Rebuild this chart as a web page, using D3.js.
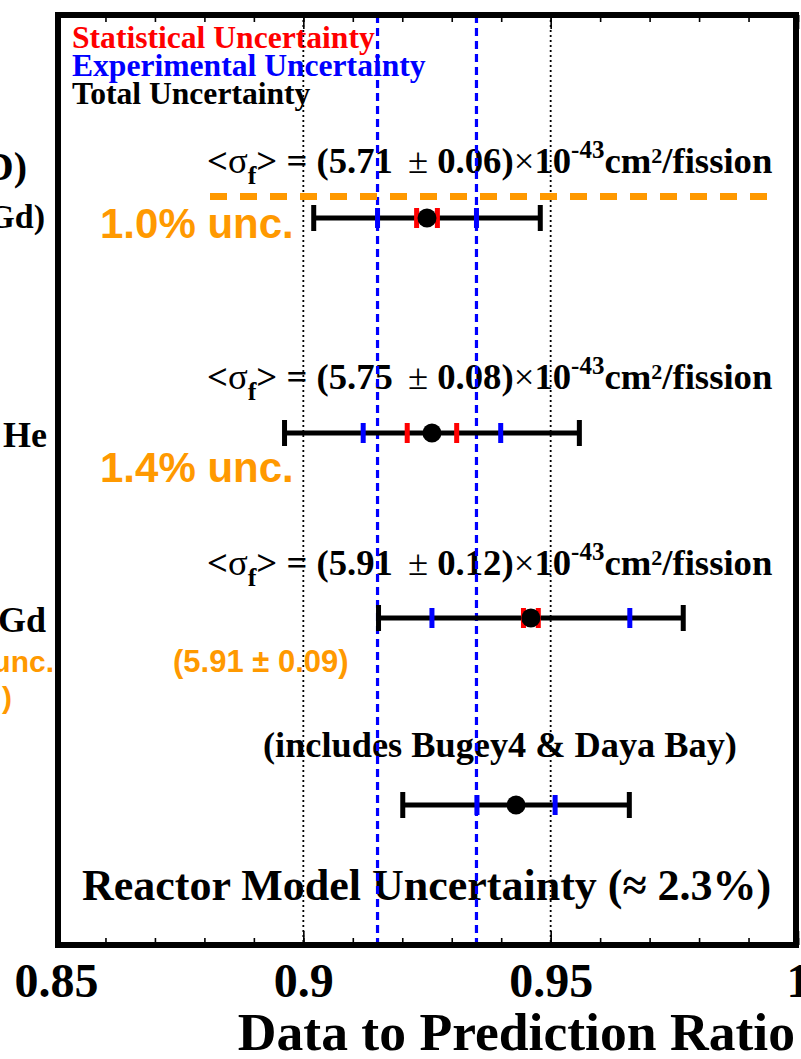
<!DOCTYPE html>
<html>
<head>
<meta charset="utf-8">
<script src="https://cdn.jsdelivr.net/npm/d3@7"></script>
<style>
  html, body { margin: 0; padding: 0; background: #fff; }
  svg { display: block; }
  text { font-family: "Liberation Serif", "Times New Roman", Times, serif; font-weight: bold; white-space: pre; }
  text.sans { font-family: "Liberation Sans", Arial, Helvetica, sans-serif; }
</style>
</head>
<body>
<svg id="chart" width="801" height="1059"></svg>
<script>
// ---- data -------------------------------------------------------------
const rowKeys   = ["r1", "r2", "r3", "r4"];
const ratio     = [0.925, 0.926, 0.946, 0.943];      // data / prediction
const totalUnc  = [0.0229, 0.0298, 0.0308, 0.0229];  // total (black)
const expUnc    = [0.0100, 0.0139, 0.0200, 0.0079];  // experimental (blue)
const statUnc   = [0.0021, 0.0050, 0.0015, null];    // statistical (red)

const yieldCentral = ["5.71", "5.75", "5.91"];
const yieldError   = ["0.06", "0.08", "0.12"];

const bandEdges  = [0.915, 0.935];                   // blue dashed reference band
const gridValues = [0.9, 0.95];                      // dotted guide lines
const majorTicks = [0.85, 0.9, 0.95, 1.0];
const tickLabels = ["0.85", "0.9", "0.95", "1"];
const minorTicks = d3.range(0, 16).map(i => 0.85 + i * 0.01);

const legendText  = ["Statistical Uncertainty", "Experimental Uncertainty", "Total Uncertainty"];
const legendColor = ["#ff0000", "#0000ff", "#000000"];
const uncLabels   = ["1.0% unc.", "1.4% unc."];
const altYield    = "(5.91 ± 0.09)";

// ---- layout -----------------------------------------------------------
const W = 801, H = 1059;
const frameTop = 15, frameBottom = 945;
const x = d3.scaleLinear().domain([0.85, 1.0]).range([56, 798]);
const y = d3.scaleOrdinal().domain(rowKeys).range([218, 433, 618, 805]);

const svg = d3.select("#chart");
svg.append("rect").attr("width", W).attr("height", H).attr("fill", "#fff");

// ---- text inside the frame (drawn under the guide lines) --------------
const legend = svg.append("g");
legendText.forEach((t, i) => {
  legend.append("text")
    .attr("x", 72).attr("y", 48 + i * 28)
    .attr("font-size", 31.6)
    .attr("fill", legendColor[i])
    .text(t);
});

function yieldLabel(baseline, c, e) {
  const t = svg.append("text").attr("x", 207).attr("y", baseline).attr("font-size", 36.7);
  t.append("tspan").text("<");
  t.append("tspan").attr("font-weight", "normal").text("σ");
  t.append("tspan").attr("font-size", 26).attr("dy", 11).text("f");
  t.append("tspan").attr("dy", -11).text("> = (" + c);
  t.append("tspan").attr("dx", 15).attr("font-weight", "normal").text("±");
  t.append("tspan").text(" " + e + ")");
  t.append("tspan").attr("font-weight", "normal").text("×");
  t.append("tspan").text("10");
  t.append("tspan").attr("font-size", 25).attr("dy", -15).text("-43");
  t.append("tspan").attr("dy", 15).text("cm");
  t.append("tspan").attr("font-size", 22).attr("dy", -10).text("2");
  t.append("tspan").attr("dy", 10).text("/fission");
}
yieldLabel(173, yieldCentral[0], yieldError[0]);
yieldLabel(389, yieldCentral[1], yieldError[1]);
yieldLabel(575, yieldCentral[2], yieldError[2]);

svg.append("text").attr("x", 263).attr("y", 757).attr("font-size", 36.3)
  .text("(includes Bugey4 & Daya Bay)");

svg.append("text").attr("x", 82).attr("y", 900).attr("font-size", 44)
  .text("Reactor Model Uncertainty (≈ 2.3%)");

// ---- guide lines --------------------------------------------------------
svg.append("g").selectAll("line").data(gridValues).join("line")
  .attr("x1", d => x(d)).attr("x2", d => x(d))
  .attr("y1", frameTop).attr("y2", frameBottom)
  .attr("stroke", "#000").attr("stroke-width", 1.8)
  .attr("stroke-dasharray", "2,3");

svg.append("g").selectAll("line").data(bandEdges).join("line")
  .attr("x1", d => x(d)).attr("x2", d => x(d))
  .attr("y1", frameTop).attr("y2", frameBottom)
  .attr("stroke", "#0000ff").attr("stroke-width", 3.2)
  .attr("stroke-dasharray", "8,5");

// ---- error bars ---------------------------------------------------------
const bars = svg.append("g").selectAll("g").data(rowKeys).join("g")
  .attr("transform", d => `translate(0,${y(d)})`);

bars.append("line")
  .attr("x1", (d, i) => x(ratio[i] - totalUnc[i]))
  .attr("x2", (d, i) => x(ratio[i] + totalUnc[i]))
  .attr("stroke", "#000").attr("stroke-width", 5);

[-1, 1].forEach(s => {
  bars.append("rect")
    .attr("x", (d, i) => x(ratio[i] + s * totalUnc[i]) - 2.5)
    .attr("y", -13).attr("width", 5).attr("height", 26).attr("fill", "#000");
  bars.append("rect")
    .attr("x", (d, i) => x(ratio[i] + s * expUnc[i]) - 2.5)
    .attr("y", -10).attr("width", 5).attr("height", 20).attr("fill", "#0000ff");
  bars.filter((d, i) => statUnc[i] != null).append("rect")
    .attr("x", d => x(ratio[rowKeys.indexOf(d)] + s * statUnc[rowKeys.indexOf(d)]) - 2.5)
    .attr("y", -10).attr("width", 5).attr("height", 20).attr("fill", "#ff0000");
});

bars.append("circle")
  .attr("cx", (d, i) => x(ratio[i]))
  .attr("r", 9.5).attr("fill", "#000");

// ---- frame and axis -----------------------------------------------------
svg.append("rect")
  .attr("x", x(0.85) + 2).attr("y", frameTop)
  .attr("width", x(1.0) - x(0.85) - 4).attr("height", frameBottom - frameTop)
  .attr("fill", "none").attr("stroke", "#000").attr("stroke-width", 6);

const axisMinorB = d3.axisBottom(x).tickValues(minorTicks).tickSize(-7).tickFormat("");
const axisMajorB = d3.axisBottom(x).tickValues(majorTicks).tickSize(-14)
  .tickFormat((d, i) => tickLabels[i]).tickPadding(28);
const axisMinorT = d3.axisTop(x).tickValues(minorTicks).tickSize(-7).tickFormat("");
const axisMajorT = d3.axisTop(x).tickValues(majorTicks).tickSize(-14).tickFormat("");

function styleAxis(g) {
  g.select(".domain").remove();
  g.selectAll(".tick line").attr("stroke", "#000").attr("stroke-width", 1.6);
}
svg.append("g").attr("transform", `translate(0,${frameBottom})`).call(axisMinorB).call(styleAxis);
const gb = svg.append("g").attr("transform", `translate(0,${frameBottom})`).call(axisMajorB).call(styleAxis);
gb.selectAll(".tick text")
  .attr("font-family", "Liberation Serif, Times New Roman, serif")
  .attr("font-weight", "bold").attr("font-size", 48).attr("fill", "#000")
  .attr("dy", "0.5em");
svg.append("g").attr("transform", `translate(0,${frameTop})`).call(axisMinorT).call(styleAxis);
svg.append("g").attr("transform", `translate(0,${frameTop})`).call(axisMajorT).call(styleAxis);

svg.append("text").attr("x", 795).attr("y", 1050).attr("text-anchor", "end")
  .attr("font-size", 53.6).text("Data to Prediction Ratio");

// ---- labels to the left of the frame ----------------------------------
const leftLabels = [
  { t: "D)",   x: 27, y: 180, s: 40 },
  { t: "Gd)",  x: 45, y: 228, s: 34 },
  { t: "He",   x: 47, y: 447, s: 36 },
  { t: "Gd",   x: 46, y: 632, s: 36 }
];
leftLabels.forEach(l => {
  svg.append("text").attr("x", l.x).attr("y", l.y).attr("text-anchor", "end")
    .attr("font-size", l.s).text(l.t);
});

// ---- orange annotations -------------------------------------------------
const orange = "#ff9900";
svg.append("line")
  .attr("x1", 210).attr("x2", 768).attr("y1", 196.5).attr("y2", 196.5)
  .attr("stroke", orange).attr("stroke-width", 7).attr("stroke-dasharray", "17,13");

svg.append("text").attr("class", "sans").attr("x", 100).attr("y", 238)
  .attr("font-size", 42).attr("fill", orange).text(uncLabels[0]);
svg.append("text").attr("class", "sans").attr("x", 100).attr("y", 482)
  .attr("font-size", 42).attr("fill", orange).text(uncLabels[1]);
svg.append("text").attr("class", "sans").attr("x", 173).attr("y", 672)
  .attr("font-size", 31).attr("fill", orange).text(altYield);
svg.append("text").attr("class", "sans").attr("x", 54).attr("y", 672)
  .attr("text-anchor", "end").attr("font-size", 30).attr("fill", orange).text("unc.");
svg.append("text").attr("class", "sans").attr("x", 12).attr("y", 708)
  .attr("text-anchor", "end").attr("font-size", 30).attr("fill", orange).text(")");
</script>
</body>
</html>
